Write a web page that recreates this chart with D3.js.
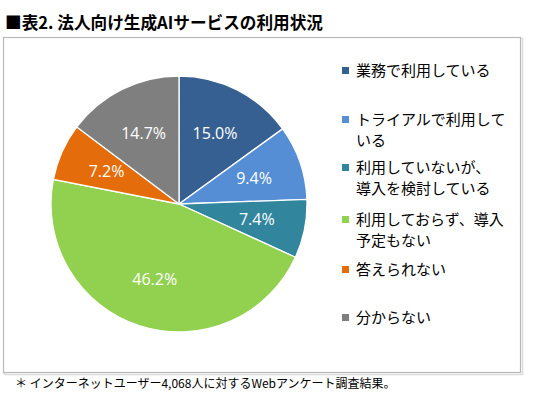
<!DOCTYPE html>
<html>
<head>
<meta charset="utf-8">
<script src="https://cdn.jsdelivr.net/npm/d3@7"></script>
<style>
  body { margin: 0; background: #fff; }
  svg { display: block; }
</style>
</head>
<body>
<svg id="chart" width="541" height="397"></svg>
<script>
// data
var categories = ["業務で利用している", "トライアルで利用している", "利用していないが、導入を検討している",
                  "利用しておらず、導入予定もない", "答えられない", "分からない"];
var legendLines = [["業務で利用している"], ["トライアルで利用して", "いる"], ["利用していないが、", "導入を検討している"],
                   ["利用しておらず、導入", "予定もない"], ["答えられない"], ["分からない"]];
var values = [15.0, 9.4, 7.4, 46.2, 7.2, 14.7];
var colors = ["#376092", "#558ed5", "#31859c", "#92d050", "#e46c0a", "#7f7f7f"];
var legendRowY = [71, 120, 168, 220, 270, 318];

var svg = d3.select("#chart");
var jp = "'Noto Sans CJK JP', 'Noto Sans', sans-serif";

// title
svg.append("text")
    .attr("x", 5).attr("y", 29)
    .attr("font-family", jp).attr("font-weight", "bold")
    .attr("font-size", 17)
    .attr("textLength", 318).attr("lengthAdjust", "spacingAndGlyphs")
    .text("■表2. 法人向け生成AIサービスの利用状況");

// frame with a small shadow
svg.append("rect")
    .attr("x", 4.5).attr("y", 38.5).attr("width", 518).attr("height", 336)
    .attr("fill", "none").attr("stroke", "#dcdcdc").attr("stroke-width", 1.5);
svg.append("rect")
    .attr("x", 3.5).attr("y", 37.5).attr("width", 517).attr("height", 335)
    .attr("fill", "#fff").attr("stroke", "#b9b9b9").attr("stroke-width", 1.2);

// pie
var cx = 179, cy = 204, radius = 128;
var pie = d3.pie().sort(null).value(function(d){ return d; });
var arc = d3.arc().innerRadius(0).outerRadius(radius);
var labelArc = d3.arc().innerRadius(radius * 0.62).outerRadius(radius * 0.62);

var g = svg.append("g").attr("transform", "translate(" + cx + "," + cy + ")");
var slices = g.selectAll("g.slice").data(pie(values)).enter()
    .append("g").attr("class", "slice");

slices.append("path")
    .attr("d", arc)
    .attr("fill", function(d, i){ return colors[i]; })
    .attr("stroke", "#fff").attr("stroke-width", 1.3);

slices.append("text")
    .attr("transform", function(d){ return "translate(" + labelArc.centroid(d) + ")"; })
    .attr("text-anchor", "middle").attr("dy", "0.35em")
    .attr("font-family", "'Open Sans', 'Liberation Sans', sans-serif")
    .attr("font-size", 16).attr("fill", "#fff")
    .text(function(d){ return d.value.toFixed(1) + "%"; });

// legend
var legend = svg.append("g");
var items = legend.selectAll("g.item").data(categories).enter()
    .append("g").attr("class", "item")
    .attr("transform", function(d, i){ return "translate(0," + legendRowY[i] + ")"; });

items.append("rect")
    .attr("x", 342).attr("y", -4).attr("width", 7).attr("height", 7)
    .attr("fill", function(d, i){ return colors[i]; });

items.append("text")
    .attr("font-family", jp).attr("font-size", 15).attr("fill", "#000")
    .selectAll("tspan").data(function(d, i){ return legendLines[i]; }).enter()
    .append("tspan")
    .attr("x", 356)
    .attr("y", function(d, j){ return j * 21; })
    .attr("dy", "0.35em")
    .text(function(d){ return d; });

// footnote
svg.append("text")
    .attr("x", 15).attr("y", 388)
    .attr("font-family", jp).attr("font-size", 12).attr("fill", "#000")
    .text("＊ インターネットユーザー4,068人に対するWebアンケート調査結果。");
</script>
</body>
</html>
